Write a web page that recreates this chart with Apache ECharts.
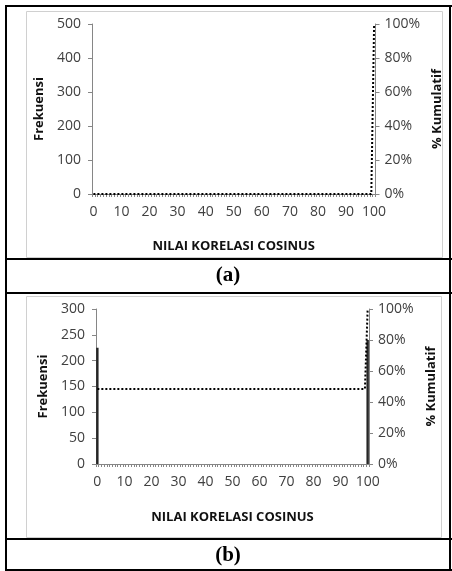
<!DOCTYPE html>
<html>
<head>
<meta charset="utf-8">
<script src="https://cdn.jsdelivr.net/npm/echarts@6/dist/echarts.min.js"></script>
<style>
  html, body { margin: 0; padding: 0; background: #fff; }
  #main { width: 452px; height: 571px; }
</style>
</head>
<body>
<div id="main"></div>
<script>
// kategori 0..100 (nilai korelasi cosinus)
var categories = [];
for (var i = 0; i <= 100; i++) categories.push(String(i));

// (a) frekuensi & kumulatif (tidak ada batang yang terlihat)
var freqA = [
  0,0,0,0,0,0,0,0,0,0, 0,0,0,0,0,0,0,0,0,0,
  0,0,0,0,0,0,0,0,0,0, 0,0,0,0,0,0,0,0,0,0,
  0,0,0,0,0,0,0,0,0,0, 0,0,0,0,0,0,0,0,0,0,
  0,0,0,0,0,0,0,0,0,0, 0,0,0,0,0,0,0,0,0,0,
  0,0,0,0,0,0,0,0,0,0, 0,0,0,0,0,0,0,0,0,0,
  0
];
var cumA = [
  0,0,0,0,0,0,0,0,0,0, 0,0,0,0,0,0,0,0,0,0,
  0,0,0,0,0,0,0,0,0,0, 0,0,0,0,0,0,0,0,0,0,
  0,0,0,0,0,0,0,0,0,0, 0,0,0,0,0,0,0,0,0,0,
  0,0,0,0,0,0,0,0,0,0, 0,0,0,0,0,0,0,0,0,0,
  0,0,0,0,0,0,0,0,0,0, 0,0,0,0,0,0,0,0,0,0,
  1
];

// (b) frekuensi & kumulatif
var freqB = [
  225,0,0,0,0,0,0,0,0,0, 0,0,0,0,0,0,0,0,0,0,
  0,0,0,0,0,0,0,0,0,0, 0,0,0,0,0,0,0,0,0,0,
  0,0,0,0,0,0,0,0,0,0, 0,0,0,0,0,0,0,0,0,0,
  0,0,0,0,0,0,0,0,0,0, 0,0,0,0,0,0,0,0,0,0,
  0,0,0,0,0,0,0,0,0,0, 0,0,0,0,0,0,0,0,0,0,
  240
];
var cumB = [
  0.484,0.484,0.484,0.484,0.484,0.484,0.484,0.484,0.484,0.484,
  0.484,0.484,0.484,0.484,0.484,0.484,0.484,0.484,0.484,0.484,
  0.484,0.484,0.484,0.484,0.484,0.484,0.484,0.484,0.484,0.484,
  0.484,0.484,0.484,0.484,0.484,0.484,0.484,0.484,0.484,0.484,
  0.484,0.484,0.484,0.484,0.484,0.484,0.484,0.484,0.484,0.484,
  0.484,0.484,0.484,0.484,0.484,0.484,0.484,0.484,0.484,0.484,
  0.484,0.484,0.484,0.484,0.484,0.484,0.484,0.484,0.484,0.484,
  0.484,0.484,0.484,0.484,0.484,0.484,0.484,0.484,0.484,0.484,
  0.484,0.484,0.484,0.484,0.484,0.484,0.484,0.484,0.484,0.484,
  0.484,0.484,0.484,0.484,0.484,0.484,0.484,0.484,0.484,0.484,
  1
];

var axisColor = '#868686';
var labelColor = '#404040';
var font = '"Open Sans", sans-serif';
var nameStyle = { fontFamily: font, fontSize: 13, fontWeight: 'bold', color: '#111' };

function xAxisOf(grid, gap) {
  return {
    type: 'category', gridIndex: grid, data: categories,
    name: 'NILAI KORELASI COSINUS', nameLocation: 'middle', nameGap: gap,
    nameTextStyle: nameStyle,
    axisLine: { show: true, lineStyle: { color: axisColor, width: 1 } },
    axisTick: { show: true, interval: 0, length: 3, lineStyle: { color: axisColor } },
    axisLabel: { interval: 9, margin: 11, fontFamily: font, fontSize: 14, color: labelColor },
    splitLine: { show: false }
  };
}
function leftAxis(grid, max, step, gap) {
  return {
    type: 'value', gridIndex: grid, min: 0, max: max, interval: step,
    name: 'Frekuensi', nameLocation: 'middle', nameRotate: 90, nameGap: gap,
    nameTextStyle: nameStyle,
    axisLine: { show: true, lineStyle: { color: axisColor } },
    axisTick: { show: true, length: 4, lineStyle: { color: axisColor } },
    axisLabel: { margin: 11, fontFamily: font, fontSize: 14, color: labelColor },
    splitLine: { show: false }
  };
}
function rightAxis(grid, gap) {
  return {
    type: 'value', gridIndex: grid, position: 'right', min: 0, max: 1, interval: 0.2,
    name: '% Kumulatif', nameLocation: 'middle', nameRotate: 90, nameGap: gap,
    nameTextStyle: nameStyle,
    axisLine: { show: true, lineStyle: { color: axisColor } },
    axisTick: { show: true, length: 4, lineStyle: { color: axisColor } },
    axisLabel: { margin: 9, fontFamily: font, fontSize: 14, color: labelColor,
      formatter: function (v) { return Math.round(v * 100) + '%'; } },
    splitLine: { show: false }
  };
}

var dotted = { color: '#000', width: 2, type: [2, 2] };

var chart = echarts.init(document.getElementById('main'));
chart.setOption({
  animation: false,
  backgroundColor: '#fff',
  grid: [
    { left: 92, top: 24, width: 287, height: 170 },
    { left: 96, top: 309, width: 273, height: 155 }
  ],
  xAxis: [xAxisOf(0, 46), xAxisOf(1, 47)],
  yAxis: [leftAxis(0, 500, 100, 42), rightAxis(0, 47), leftAxis(1, 300, 50, 46), rightAxis(1, 51)],
  series: [
    { type: 'bar', xAxisIndex: 0, yAxisIndex: 0, data: freqA, barCategoryGap: '10%',
      itemStyle: { color: '#262626' } },
    { type: 'line', xAxisIndex: 0, yAxisIndex: 1, data: cumA, showSymbol: false, z: 5,
      lineStyle: dotted },
    { type: 'bar', xAxisIndex: 1, yAxisIndex: 2, data: freqB, barCategoryGap: '10%',
      itemStyle: { color: '#262626' } },
    { type: 'line', xAxisIndex: 1, yAxisIndex: 3, data: cumB, showSymbol: false, z: 5,
      lineStyle: dotted }
  ],
  graphic: [
    // bingkai grafik
    { type: 'rect', shape: { x: 26.5, y: 11.5, width: 416, height: 246 }, z: -1,
      style: { fill: null, stroke: '#d0d0d0', lineWidth: 1 } },
    { type: 'rect', shape: { x: 26.5, y: 296.5, width: 415, height: 241 }, z: -1,
      style: { fill: null, stroke: '#d0d0d0', lineWidth: 1 } },
    // garis tabel
    { type: 'line', shape: { x1: 5, y1: 6, x2: 452, y2: 6 }, style: { stroke: '#000', lineWidth: 2 } },
    { type: 'line', shape: { x1: 5, y1: 259, x2: 452, y2: 259 }, style: { stroke: '#000', lineWidth: 2 } },
    { type: 'line', shape: { x1: 5, y1: 293, x2: 452, y2: 293 }, style: { stroke: '#000', lineWidth: 2 } },
    { type: 'line', shape: { x1: 5, y1: 539, x2: 452, y2: 539 }, style: { stroke: '#000', lineWidth: 2 } },
    { type: 'line', shape: { x1: 5, y1: 570, x2: 452, y2: 570 }, style: { stroke: '#000', lineWidth: 2 } },
    { type: 'line', shape: { x1: 6, y1: 5, x2: 6, y2: 571 }, style: { stroke: '#000', lineWidth: 2 } },
    { type: 'line', shape: { x1: 450, y1: 5, x2: 450, y2: 571 }, style: { stroke: '#000', lineWidth: 2 } },
    // label (a) (b)
    { type: 'text', x: 228, y: 276, style: { text: '(a)', fill: '#000', align: 'center', verticalAlign: 'middle',
      font: 'bold 21px "Liberation Serif", serif' } },
    { type: 'text', x: 228, y: 556, style: { text: '(b)', fill: '#000', align: 'center', verticalAlign: 'middle',
      font: 'bold 21px "Liberation Serif", serif' } }
  ]
});
</script>
</body>
</html>
